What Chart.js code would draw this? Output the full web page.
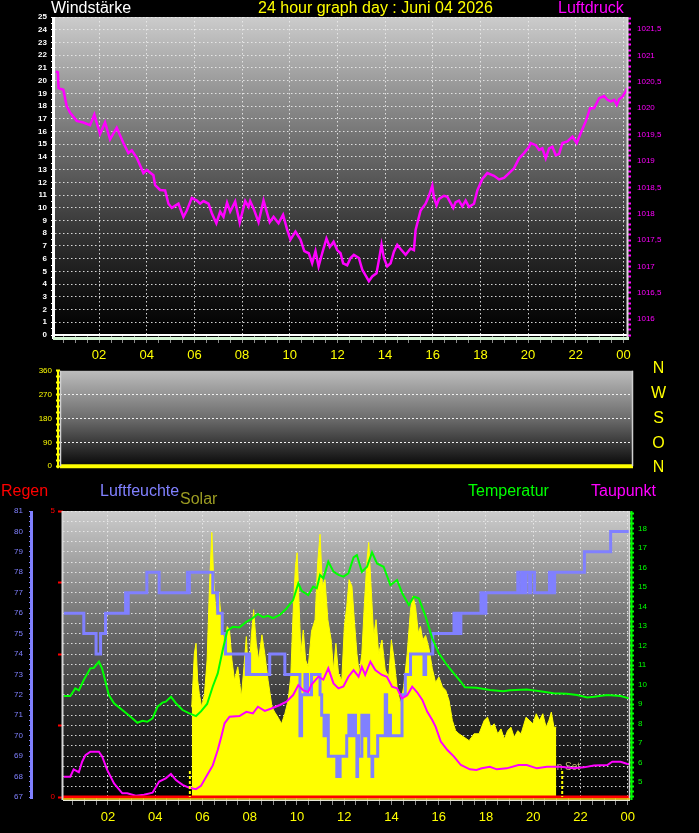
<!DOCTYPE html>
<html lang="de">
<head>
<meta charset="utf-8">
<title>24 hour graph day : Juni 04 2026</title>
<script src="https://cdn.jsdelivr.net/npm/chart.js@4.4.1/dist/chart.umd.min.js"></script>
<style>
  html, body { margin: 0; padding: 0; background: #000; }
  body { position: relative; width: 699px; height: 833px; overflow: hidden;
         font-family: "Liberation Sans", Arial, sans-serif; }
  canvas { position: absolute; left: 0; }
  .lbl { position: absolute; font-size: 16px; line-height: 16px; white-space: nowrap; }
  .dir { position: absolute; left: 648px; width: 21px; text-align: center; color: #ffff00;
         font-size: 16px; line-height: 16px; }
</style>
</head>
<body>
<canvas id="panelWind" width="699" height="362" style="top:0"></canvas>
<canvas id="panelDir" width="699" height="113" style="top:362px"></canvas>
<canvas id="panelClimate" width="699" height="358" style="top:475px"></canvas>

<div class="lbl" style="left:51px;top:0;color:#ffffff">Windstärke</div>
<div class="lbl" style="left:258px;top:0;color:#ffff00">24 hour graph day : Juni 04 2026</div>
<div class="lbl" style="left:558px;top:0;color:#ff00ff">Luftdruck</div>

<div class="dir" style="top:360px">N</div>
<div class="dir" style="top:385px">W</div>
<div class="dir" style="top:410px">S</div>
<div class="dir" style="top:435px">O</div>
<div class="dir" style="top:459px">N</div>

<div class="lbl" style="left:1px;top:483px;color:#ff0000">Regen</div>
<div class="lbl" style="left:100px;top:483px;color:#8080ff">Luftfeuchte</div>
<div class="lbl" style="left:180px;top:491px;color:#9c9c22">Solar</div>
<div class="lbl" style="left:468px;top:483px;color:#00ff00">Temperatur</div>
<div class="lbl" style="left:591px;top:483px;color:#ff00ff">Taupunkt</div>

<script>
const FONT = "'Liberation Sans', Arial, sans-serif";
const DOTS = 'rgba(235,235,235,0.9)';
Chart.defaults.font.family = FONT;

// zeit in stunden ab mitternacht (24 = 00 am naechsten tag)

// Luftdruck hPa
const pressureTimes = [
  0.19, 0.27, 0.30, 0.50, 0.64, 0.78, 1.06, 1.34, 1.62, 1.80,
  2.04, 2.25, 2.46, 2.74, 3.02, 3.23, 3.37, 3.58, 3.86, 4.00,
  4.28, 4.35, 4.56, 4.77, 4.91, 5.05, 5.33, 5.54, 5.68, 5.89,
  6.10, 6.24, 6.38, 6.59, 6.73, 6.92, 7.08, 7.22, 7.37, 7.50,
  7.71, 7.90, 8.13, 8.27, 8.34, 8.48, 8.69, 8.90, 9.16, 9.32,
  9.53, 9.72, 9.89, 10.03, 10.24, 10.45, 10.61, 10.80, 10.94, 11.08,
  11.21, 11.36, 11.54, 11.68, 11.84, 11.99, 12.13, 12.24, 12.41, 12.55,
  12.69, 12.90, 13.04, 13.32, 13.46, 13.64, 13.74, 13.85, 13.95, 14.09,
  14.23, 14.37, 14.51, 14.65, 14.86, 15.07, 15.21, 15.28, 15.49, 15.70,
  15.84, 15.98, 16.05, 16.16, 16.26, 16.47, 16.61, 16.86, 16.96, 17.10,
  17.24, 17.38, 17.52, 17.73, 17.87, 18.08, 18.29, 18.57, 18.78, 18.99,
  19.20, 19.41, 19.62, 19.83, 20.04, 20.11, 20.32, 20.46, 20.60, 20.74,
  20.88, 21.02, 21.16, 21.30, 21.44, 21.65, 21.86, 22.04, 22.21, 22.42,
  22.60, 22.77, 22.98, 23.19, 23.33, 23.47, 23.61, 23.72, 23.82, 23.96,
  24.10, 24.15
];
const pressureValues = [
  1020.70, 1020.68, 1020.38, 1020.35, 1020.04, 1019.92, 1019.76, 1019.73, 1019.68, 1019.88,
  1019.51, 1019.73, 1019.41, 1019.63, 1019.34, 1019.15, 1019.20, 1019.06, 1018.77, 1018.83,
  1018.73, 1018.54, 1018.45, 1018.44, 1018.19, 1018.11, 1018.19, 1017.94, 1018.06, 1018.30,
  1018.25, 1018.19, 1018.24, 1018.19, 1018.01, 1017.82, 1018.04, 1017.94, 1018.21, 1018.04,
  1018.23, 1017.83, 1018.24, 1018.13, 1018.24, 1018.10, 1017.84, 1018.25, 1017.84, 1017.94,
  1017.82, 1017.98, 1017.70, 1017.51, 1017.66, 1017.51, 1017.29, 1017.25, 1017.06, 1017.29,
  1017.00, 1017.25, 1017.53, 1017.37, 1017.47, 1017.31, 1017.25, 1017.06, 1017.02, 1017.16,
  1017.22, 1017.16, 1016.94, 1016.72, 1016.81, 1016.87, 1017.12, 1017.41, 1017.16, 1017.00,
  1017.06, 1017.28, 1017.41, 1017.33, 1017.22, 1017.34, 1017.31, 1017.69, 1018.06, 1018.19,
  1018.34, 1018.53, 1018.31, 1018.16, 1018.28, 1018.34, 1018.32, 1018.11, 1018.22, 1018.25,
  1018.14, 1018.25, 1018.13, 1018.19, 1018.44, 1018.66, 1018.77, 1018.72, 1018.65, 1018.68,
  1018.77, 1018.86, 1019.05, 1019.15, 1019.27, 1019.34, 1019.30, 1019.21, 1019.24, 1019.05,
  1019.24, 1019.27, 1019.11, 1019.13, 1019.34, 1019.37, 1019.46, 1019.34, 1019.53, 1019.75,
  1020.00, 1020.00, 1020.19, 1020.23, 1020.16, 1020.13, 1020.16, 1020.06, 1020.17, 1020.22,
  1020.32, 1020.38
];

// Windstärke und Windrichtung (den ganzen tag 0)
const windTimes = [0.15, 24.15];
const windValues = [0, 0];
const dirTimes = [0.15, 24.15];
const dirValues = [0, 0];

// Luftfeuchte % (stufen)
const humTimes = [
  0.13, 0.98, 1.50, 1.69, 1.90, 2.75, 2.80, 2.86, 3.65, 4.17,
  5.37, 5.41, 5.45, 6.44, 6.65, 6.84, 6.98, 7.86, 7.92, 8.00,
  8.85, 9.49, 10.13, 10.20, 10.34, 10.45, 10.62, 10.98, 11.05, 11.15,
  11.22, 11.33, 11.69, 11.72, 11.80, 11.83, 12.11, 12.20, 12.30, 12.40,
  12.48, 12.54, 12.57, 12.61, 12.75, 12.85, 12.95, 13.04, 13.18, 13.21,
  13.42, 13.74, 13.80, 13.86, 13.96, 14.45, 14.59, 14.81, 15.38, 15.45,
  15.75, 16.65, 16.70, 16.76, 16.82, 16.94, 17.79, 17.84, 17.90, 17.95,
  18.00, 19.35, 19.42, 19.55, 19.62, 19.70, 19.85, 19.90, 20.06, 20.69,
  20.76, 20.83, 20.86, 20.91, 22.17, 23.28, 24.10
];
const humValues = [
  76, 75, 74, 75, 76, 77, 76, 77, 78, 77,
  78, 77, 78, 77, 76, 75, 74, 73, 74, 73,
  74, 73, 70, 72, 73, 72, 73, 72, 71, 70,
  71, 69, 68, 69, 68, 69, 70, 71, 70, 71,
  70, 68, 70, 69, 71, 70, 71, 69, 68, 69,
  70, 72, 70, 71, 70, 72, 73, 74, 73, 74,
  75, 76, 75, 76, 75, 76, 77, 76, 77, 76,
  77, 78, 77, 78, 77, 78, 77, 78, 77, 78,
  77, 78, 77, 78, 79, 80, 80
];

// Temperatur °C
const tempTimes = [
  0.13, 0.41, 0.62, 0.77, 0.98, 1.26, 1.40, 1.62, 1.76, 2.04,
  2.26, 2.61, 2.96, 3.25, 3.46, 3.67, 3.89, 4.10, 4.31, 4.45,
  4.67, 4.88, 5.16, 5.45, 5.73, 5.94, 6.20, 6.44, 6.65, 6.86,
  7.05, 7.29, 7.57, 7.86, 8.07, 8.35, 8.57, 8.78, 8.99, 9.28,
  9.56, 9.84, 10.06, 10.20, 10.48, 10.69, 10.84, 10.98, 11.12, 11.33,
  11.55, 11.76, 11.97, 12.18, 12.40, 12.54, 12.75, 12.97, 13.18, 13.39,
  13.67, 13.96, 14.24, 14.46, 14.74, 14.95, 15.16, 15.45, 15.73, 16.01,
  16.30, 16.58, 16.94, 17.11, 17.60, 18.17, 18.74, 19.02, 19.73, 20.30,
  20.86, 21.43, 21.86, 22.29, 22.57, 23.14, 23.70, 24.06
];
const tempValues = [
  9.41, 9.41, 9.80, 9.70, 10.23, 10.83, 10.85, 11.17, 10.80, 9.46,
  9.04, 8.69, 8.35, 8.04, 8.14, 8.09, 8.26, 8.86, 9.07, 9.12,
  9.37, 9.04, 8.69, 8.52, 8.38, 8.62, 9.00, 9.90, 10.57, 11.77,
  12.75, 12.96, 12.93, 13.22, 13.35, 13.62, 13.45, 13.52, 13.40, 13.57,
  13.90, 14.33, 15.19, 14.81, 14.59, 15.02, 14.93, 15.62, 15.45, 16.30,
  15.79, 15.62, 15.53, 15.70, 16.52, 16.64, 15.78, 16.04, 16.78, 16.21,
  16.04, 15.10, 15.36, 14.68, 14.08, 14.50, 14.42, 13.48, 12.37, 11.60,
  11.09, 10.66, 10.14, 9.86, 9.83, 9.72, 9.66, 9.70, 9.75, 9.66,
  9.55, 9.52, 9.46, 9.34, 9.37, 9.46, 9.41, 9.29
];

// Taupunkt °C
const dewTimes = [
  0.13, 0.41, 0.55, 0.77, 0.91, 1.05, 1.26, 1.62, 1.76, 1.97,
  2.26, 2.61, 2.82, 3.18, 3.53, 3.89, 4.17, 4.45, 4.67, 4.88,
  5.16, 5.45, 5.73, 5.94, 6.16, 6.44, 6.65, 6.80, 6.94, 7.15,
  7.57, 7.86, 8.14, 8.35, 8.64, 8.92, 9.28, 9.56, 9.84, 10.06,
  10.27, 10.48, 10.62, 10.91, 11.12, 11.33, 11.55, 11.76, 11.97, 12.18,
  12.40, 12.61, 12.75, 12.89, 13.11, 13.32, 13.60, 13.81, 14.03, 14.24,
  14.45, 14.67, 14.88, 15.09, 15.31, 15.52, 15.73, 15.87, 16.09, 16.37,
  16.65, 16.94, 17.11, 17.32, 17.60, 17.82, 18.17, 18.46, 18.88, 19.38,
  19.73, 20.16, 20.58, 21.15, 21.72, 22.14, 22.57, 23.14, 23.35, 23.70,
  23.99, 24.06
];
const dewValues = [
  5.27, 5.27, 5.65, 5.50, 6.04, 6.38, 6.55, 6.55, 6.30, 5.62,
  4.93, 4.42, 4.42, 4.30, 4.35, 4.45, 5.02, 5.19, 5.41, 5.10,
  4.85, 4.70, 4.63, 4.80, 5.27, 5.85, 6.64, 7.32, 8.01, 8.35,
  8.38, 8.60, 8.52, 8.86, 8.65, 8.77, 8.95, 9.12, 9.46, 9.97,
  9.70, 9.62, 10.00, 10.40, 10.25, 10.83, 10.06, 9.80, 9.90, 10.40,
  10.74, 10.40, 10.91, 10.50, 11.17, 10.74, 10.49, 10.40, 9.89, 9.80,
  9.29, 9.45, 9.89, 9.60, 9.21, 8.60, 8.18, 7.84, 7.07, 6.64,
  6.30, 5.87, 5.78, 5.65, 5.62, 5.70, 5.78, 5.65, 5.70, 5.87,
  5.87, 5.70, 5.78, 5.78, 5.70, 5.75, 5.84, 5.87, 6.04, 6.04,
  5.92, 5.92
];

// Solar W/m2
const solarTimes = [
  5.55, 5.66, 5.73, 5.80, 5.87, 5.97, 6.09, 6.20, 6.30, 6.40,
  6.48, 6.58, 6.70, 6.80, 6.94, 7.05, 7.15, 7.25, 7.36, 7.50,
  7.65, 7.76, 7.86, 7.96, 8.07, 8.17, 8.28, 8.38, 8.52, 8.64,
  8.78, 8.95, 9.06, 9.20, 9.35, 9.49, 9.63, 9.74, 9.84, 9.94,
  10.01, 10.09, 10.17, 10.27, 10.37, 10.48, 10.62, 10.77, 10.88, 10.98,
  11.08, 11.19, 11.31, 11.45, 11.55, 11.65, 11.76, 11.90, 12.01, 12.11,
  12.21, 12.33, 12.43, 12.54, 12.64, 12.75, 12.86, 12.97, 13.04, 13.14,
  13.25, 13.35, 13.46, 13.60, 13.74, 13.89, 14.00, 14.10, 14.24, 14.38,
  14.52, 14.67, 14.81, 14.91, 15.02, 15.14, 15.23, 15.33, 15.45, 15.59,
  15.73, 15.87, 16.01, 16.16, 16.30, 16.44, 16.58, 16.72, 16.86, 17.08,
  17.29, 17.50, 17.71, 17.93, 18.07, 18.21, 18.35, 18.50, 18.64, 18.78,
  18.92, 19.06, 19.20, 19.35, 19.49, 19.70, 19.84, 19.99, 20.13, 20.27,
  20.41, 20.55, 20.67, 20.77, 20.88, 20.98
];
const solarValues = [
  314, 502, 537, 408, 361, 314, 361, 479, 737, 925,
  760, 631, 713, 620, 526, 596, 584, 479, 408, 455,
  350, 455, 561, 408, 561, 655, 537, 479, 567, 502,
  408, 314, 297, 279, 256, 291, 338, 420, 643, 807,
  854, 678, 502, 584, 479, 455, 580, 620, 819, 919,
  737, 760, 620, 549, 444, 537, 432, 408, 596, 666,
  760, 737, 620, 502, 432, 502, 678, 831, 890, 737,
  561, 620, 502, 549, 444, 420, 549, 490, 385, 326,
  385, 502, 655, 702, 666, 573, 596, 549, 565, 520,
  450, 400, 420, 385, 373, 338, 268, 232, 221, 209,
  197, 221, 221, 268, 279, 244, 256, 221, 238, 203,
  232, 244, 209, 232, 221, 279, 268, 256, 291, 268,
  291, 244, 268, 297, 244, 244
];

// Regen mm
const rainTimes = [0.1, 24.1];
const rainValues = [0, 0];

const sunRise = 5.47;
const sunSet = 21.23;

function pts(ts, vs) {
  return ts.map((t, i) => ({ x: t, y: vs[i] }));
}

function stepTicks(min, max, step) {
  const out = [];
  for (let n = Math.ceil(min / step - 1e-6); n * step <= max + 1e-6; n++) {
    out.push({ value: Math.round(n * step * 1e4) / 1e4 });
  }
  return out;
}

function onStep(v, step) {
  const r = v / step;
  return Math.abs(r - Math.round(r)) < 1e-6;
}

function line(ctx, x1, y1, x2, y2, color, w, dash) {
  ctx.save();
  ctx.strokeStyle = color;
  ctx.lineWidth = w;
  ctx.setLineDash(dash || []);
  ctx.beginPath();
  ctx.moveTo(x1, y1);
  ctx.lineTo(x2, y2);
  ctx.stroke();
  ctx.restore();
}

const GRAD = [[0, '#cccccc'], [0.26, '#8e8e8e'], [0.42, '#6a6a6a'], [0.575, '#4a4a4a'],
              [0.73, '#2a2a2a'], [0.89, '#0e0e0e'], [1, '#000000']];
const GRAD_DIR = [[0, '#bcbcbc'], [0.5, '#6c6c6c'], [0.8, '#303030'], [1, '#080808']];

function panelBack(stops) {
  return {
    id: 'panelBack',
    beforeDraw(chart) {
      const { ctx, chartArea: a } = chart;
      const g = ctx.createLinearGradient(0, a.top, 0, a.bottom);
      stops.forEach(s => g.addColorStop(s[0], s[1]));
      ctx.save();
      ctx.fillStyle = g;
      ctx.fillRect(a.left, a.top, a.right - a.left, a.bottom - a.top);
      ctx.restore();
    }
  };
}

function hourAxis(min, max, height) {
  return {
    type: 'linear', min: min, max: max,
    afterFit: s => { s.height = height; },
    afterBuildTicks: s => { s.ticks = stepTicks(s.min, s.max, 0.5); },
    ticks: {
      autoSkip: false, maxRotation: 0, color: '#ffff00', padding: 5,
      font: { size: 13 },
      callback: v => onStep(v, 2) ? String(Math.round(v) % 24).padStart(2, '0') : ''
    },
    grid: {
      color: c => (c.tick && onStep(c.tick.value, 2)) ? DOTS : 'rgba(0,0,0,0)',
      tickColor: '#8c8c8c', tickLength: 8
    },
    border: { display: false, dash: [1.5, 2.5] }
  };
}

const common = {
  responsive: false,
  animation: false,
  events: [],
  plugins: { legend: { display: false }, tooltip: { enabled: false } }
};

// oben: Windstärke / Luftdruck
new Chart(document.getElementById('panelWind'), {
  type: 'line',
  data: {
    datasets: [
      { label: 'Luftdruck', data: pts(pressureTimes, pressureValues), yAxisID: 'yP',
        borderColor: '#ff00ff', borderWidth: 2.5, pointRadius: 0 },
      { label: 'Windstärke', data: pts(windTimes, windValues), yAxisID: 'yW',
        borderColor: '#ffffff', borderWidth: 2, pointRadius: 0, clip: false }
    ]
  },
  options: Object.assign({}, common, {
    layout: { padding: { top: 17, left: 0, right: 0, bottom: 0 } },
    scales: {
      x: hourAxis(0.15, 24.15, 27),
      yW: {
        position: 'left', min: 0, max: 25,
        afterFit: s => { s.width = 55; },
        afterBuildTicks: s => { s.ticks = stepTicks(s.min, s.max, 0.5); },
        ticks: { autoSkip: false, color: '#ffffff', padding: 4, font: { size: 8, weight: 'bold' },
                 callback: v => onStep(v, 1) ? String(v) : '' },
        grid: { color: c => (c.tick && onStep(c.tick.value, 1)) ? DOTS : 'rgba(0,0,0,0)',
                tickColor: '#ffffff', tickLength: 4 },
        border: { display: false, dash: [1.5, 2.5] }
      },
      yP: {
        position: 'right', min: 1015.7, max: 1021.73,
        afterFit: s => { s.width = 72; },
        afterBuildTicks: s => { s.ticks = stepTicks(s.min, s.max, 0.1); },
        ticks: { autoSkip: false, color: '#ff00ff', padding: 6, font: { size: 8 },
                 callback: v => onStep(v, 0.5) ? String(v).replace('.', ',') : '' },
        grid: { drawOnChartArea: false, tickColor: '#ff00ff', tickLength: 4, tickWidth: 2 },
        border: { display: false }
      }
    }
  }),
  plugins: [panelBack(GRAD), {
    id: 'frameWind',
    afterDraw(chart) {
      const { ctx, chartArea: a } = chart;
      line(ctx, a.left - 1.5, a.top, a.left - 1.5, a.bottom + 4, '#ffffff', 3);
      line(ctx, a.right + 0.5, a.top, a.right + 0.5, a.bottom + 4, '#d8d8d8', 2);
      line(ctx, a.left - 2, a.bottom + 3.5, a.right + 2, a.bottom + 3.5, '#d4f4d4', 3);
    }
  }]
});

// mitte: Windrichtung
new Chart(document.getElementById('panelDir'), {
  type: 'line',
  data: {
    datasets: [
      { label: 'Windrichtung', data: pts(dirTimes, dirValues), yAxisID: 'yD',
        borderColor: '#ffff00', borderWidth: 4, pointRadius: 0, clip: false }
    ]
  },
  options: Object.assign({}, common, {
    layout: { padding: { top: 5, left: 0, right: 66, bottom: 8 } },
    scales: {
      x: { type: 'linear', min: 0.15, max: 24.15, display: false },
      yD: {
        position: 'left', min: 0, max: 360,
        afterFit: s => { s.width = 60; },
        afterBuildTicks: s => { s.ticks = stepTicks(s.min, s.max, 22.5); },
        ticks: { autoSkip: false, color: '#ffff00', padding: 4, font: { size: 8 },
                 callback: v => onStep(v, 90) ? String(v) : '' },
        grid: {
          color: c => (c.tick && onStep(c.tick.value, 90) && c.tick.value > 0 && c.tick.value < 360)
            ? '#f0f0f0' : 'rgba(0,0,0,0)',
          tickColor: '#ffff00', tickLength: 4, tickWidth: 2
        },
        border: { display: false, dash: [2, 2] }
      }
    }
  }),
  plugins: [panelBack(GRAD_DIR), {
    id: 'frameDir',
    afterDraw(chart) {
      const { ctx, chartArea: a } = chart;
      line(ctx, a.left - 2, a.top, a.left - 2, a.bottom + 2, '#ffff00', 2);
      line(ctx, a.left + 0.5, a.top, a.left + 0.5, a.bottom, '#d0d0d0', 1.5);
      line(ctx, a.right - 0.5, a.top, a.right - 0.5, a.bottom, '#d0d0d0', 1.5);
    }
  }]
});

// unten: Regen, Luftfeuchte, Solar, Temperatur, Taupunkt
new Chart(document.getElementById('panelClimate'), {
  type: 'line',
  data: {
    datasets: [
      { label: 'Solar', data: pts(solarTimes, solarValues), yAxisID: 'ySolar',
        borderColor: '#ffff00', backgroundColor: '#ffff00', borderWidth: 1,
        fill: 'origin', pointRadius: 0, order: 5 },
      { label: 'Luftfeuchte', data: pts(humTimes, humValues), yAxisID: 'yH',
        borderColor: '#8080ff', borderWidth: 3, stepped: true, pointRadius: 0, order: 3 },
      { label: 'Temperatur', data: pts(tempTimes, tempValues), yAxisID: 'yT',
        borderColor: '#00ff00', borderWidth: 2, pointRadius: 0, order: 2 },
      { label: 'Taupunkt', data: pts(dewTimes, dewValues), yAxisID: 'yT',
        borderColor: '#ff00ff', borderWidth: 2, pointRadius: 0, order: 2 },
      { label: 'Regen', data: pts(rainTimes, rainValues), yAxisID: 'yR',
        borderColor: '#ff0000', borderWidth: 3, pointRadius: 0, clip: false, order: 1 }
    ]
  },
  options: Object.assign({}, common, {
    layout: { padding: { top: 36, left: 0, right: 0, bottom: 0 } },
    scales: {
      x: hourAxis(0.1, 24.1, 36),
      yR: {
        position: 'left', weight: 0, min: 0, max: 5,
        afterFit: s => { s.width = 30; },
        afterBuildTicks: s => { s.ticks = stepTicks(s.min, s.max, 1.25); },
        ticks: { autoSkip: false, color: '#ff0000', padding: 3, font: { size: 8 },
                 callback: v => (v === 0 || v === 5) ? String(v) : '' },
        grid: { drawOnChartArea: false, tickColor: '#ff0000', tickLength: 5, tickWidth: 2 },
        border: { display: false }
      },
      yH: {
        position: 'left', weight: 1, min: 67, max: 81,
        afterFit: s => { s.width = 33; },
        afterBuildTicks: s => { s.ticks = stepTicks(s.min, s.max, 0.25); },
        ticks: { autoSkip: false, color: '#8080ff', padding: 6, font: { size: 8 },
                 callback: v => onStep(v, 1) ? String(v) : '' },
        grid: { color: c => (c.tick && onStep(c.tick.value, 0.5)) ? DOTS : 'rgba(0,0,0,0)',
                tickColor: '#8080ff', tickLength: 4 },
        border: { display: false, dash: [1.5, 2.5] }
      },
      yT: {
        position: 'right', min: 4.23, max: 18.9,
        afterFit: s => { s.width = 69; },
        afterBuildTicks: s => { s.ticks = stepTicks(s.min, s.max, 0.25); },
        ticks: { autoSkip: false, color: '#00ff00', padding: 4, font: { size: 8 },
                 callback: v => onStep(v, 1) ? String(v) : '' },
        grid: { drawOnChartArea: false, tickColor: '#00ff00', tickLength: 4, tickWidth: 2 },
        border: { display: false }
      },
      ySolar: { display: false, min: 0, max: 1000 }
    }
  }),
  plugins: [panelBack(GRAD), {
    id: 'frameClimate',
    beforeDatasetsDraw(chart) {
      const { ctx } = chart;
      const xs = chart.scales.x.getPixelForValue(sunSet);
      ctx.save();
      ctx.font = '10px ' + FONT;
      ctx.fillStyle = '#c8bc78';
      ctx.textAlign = 'center';
      ctx.fillText('Sun Set', xs, chart.chartArea.bottom - 27);
      ctx.restore();
    },
    afterDatasetsDraw(chart) {
      const { ctx, chartArea: a } = chart;
      [sunRise, sunSet].forEach(t => {
        const px = chart.scales.x.getPixelForValue(t);
        line(ctx, px, a.bottom - 26, px, a.bottom, '#ffff00', 2, [3, 2]);
      });
    },
    afterDraw(chart) {
      const { ctx, chartArea: a, scales } = chart;
      const hx = scales.yH.right - 1.5;
      line(ctx, hx, a.top, hx, a.bottom + 2, '#8080ff', 3);
      line(ctx, a.left - 0.5, a.top, a.left - 0.5, a.bottom + 3, '#d4d4d4', 2);
      line(ctx, a.right - 0.5, a.top, a.right - 0.5, a.bottom + 3, '#d4d4d4', 1.5);
      line(ctx, a.right + 1.5, a.top, a.right + 1.5, a.bottom + 3, '#00ff00', 2);
      line(ctx, a.left, a.bottom + 2, a.right, a.bottom + 2, '#ffdd00', 1.5);
      line(ctx, a.left, a.bottom + 3.3, a.right, a.bottom + 3.3, '#e6e6d8', 1.2);
    }
  }]
});
</script>
</body>
</html>
